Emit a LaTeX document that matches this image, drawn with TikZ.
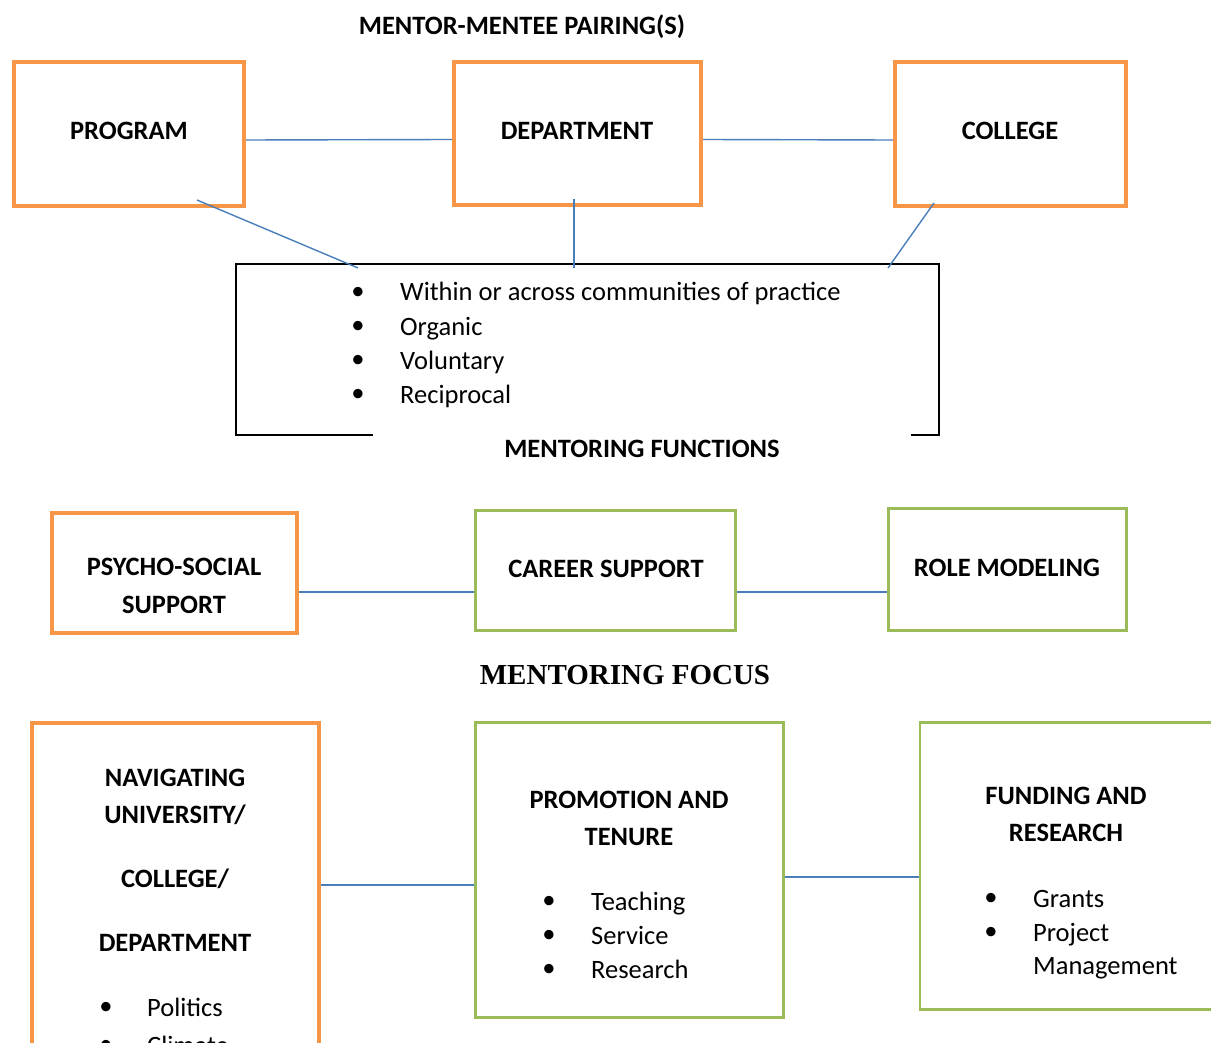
\documentclass[tikz,border=0pt]{standalone}
\usepackage{fontspec}
\setmainfont{Carlito}
\newfontfamily\focusfont{Liberation Serif}
\usetikzlibrary{positioning, calc}

\definecolor{boxorange}{HTML}{F79646}
\definecolor{boxgreen}{HTML}{9BBB59}
\definecolor{linkblue}{HTML}{4A7EBB}
\newcommand{\bodysize}{\fontsize{26.5pt}{34pt}\selectfont}

\tikzset{
  obox/.style={draw=boxorange, line width=4pt, inner sep=0pt},
  gbox/.style={draw=boxgreen, line width=2.4pt, inner sep=0pt},
  head/.style={font=\bodysize\bfseries, anchor=base, inner sep=0pt},
  item/.style={font=\bodysize, anchor=base west, inner sep=0pt},
  dot/.style={font=\bodysize, inner sep=0pt},
  link/.style={draw=linkblue, line width=1.4pt},
}

\begin{document}
\begin{tikzpicture}[x=1pt, y=-1pt]
\useasboundingbox (0,0) rectangle (1211,1043);
\clip (0,0) rectangle (1211,1043);

% Mentor-mentee pairings
\node[head] (pairtitle) at (522, 35) {MENTOR-MENTEE PAIRING(S)};
\node[obox, minimum width=230pt, minimum height=144pt] (program) at (129, 134) {};
\node[obox, minimum width=247pt, minimum height=143pt] (department) at (577.5, 133.5) {};
\node[obox, minimum width=231pt, minimum height=144pt] (college) at (1010.5, 134) {};
\node[head] (programT) at (129, 140) {PROGRAM};
\node[head] (departmentT) at (577, 140) {DEPARTMENT};
\node[head] (collegeT) at (1010, 140) {COLLEGE};

\draw[link] ([yshift=-6pt]program.east) -- ([yshift=-6pt]department.west);
\draw[link] ([yshift=-6pt]department.east) -- ([yshift=-6pt]college.west);

% Traits of the pairing
\node[draw, line width=1.5pt, minimum width=703pt, minimum height=171pt, inner sep=0pt] (traits) at (587.5, 349.5) {};
\foreach \t [count=\i from 0] in {Within or across communities of practice, Organic, Voluntary, Reciprocal} {
  \node[dot] (tdot\i) at (358, 293+34*\i) {\textbullet};
  \node[item] (titem\i) at (400, 301+34*\i) {\t};
}
\coordinate (progfoot) at (197, 200);
\coordinate (deptfoot) at (574, 199);
\coordinate (collfoot) at (934, 203);
\coordinate (traitsA) at (358, 268);
\coordinate (traitsB) at (574, 268);
\coordinate (traitsC) at (888, 268);
\draw[link] (progfoot) -- (traitsA);
\draw[link] (deptfoot) -- (traitsB);
\draw[link] (collfoot) -- (traitsC);

% Mentoring functions
\node[fill=white, minimum width=538pt, minimum height=34pt, inner sep=0pt] (funcband) at (642, 449) {};
\node[head] (functitle) at (642, 457) {MENTORING FUNCTIONS};
\node[obox, minimum width=245pt, minimum height=120pt] (psycho) at (174.5, 573) {};
\node[gbox, minimum width=260pt, minimum height=120pt] (career) at (605.5, 570.5) {};
\node[gbox, minimum width=238pt, minimum height=122pt] (role) at (1007.5, 569.5) {};
\node[head] (psychoT) at (174, 575) {PSYCHO-SOCIAL};
\node[head] (psychoT2) at (174, 613) {SUPPORT};
\node[head] (careerT) at (606, 577) {CAREER SUPPORT};
\node[head] (roleT) at (1007, 576) {ROLE MODELING};

\draw[link] ([yshift=-19pt]psycho.east) -- ([yshift=-21.5pt]career.west);
\draw[link] ([yshift=-21.5pt]career.east) -- ([yshift=-22.5pt]role.west);

% Mentoring focus
\node[font={\focusfont\fontsize{29pt}{34pt}\selectfont\bfseries}, anchor=base, inner sep=0pt] (focustitle) at (625, 684) {MENTORING FOCUS};
\node[obox, minimum width=287pt, minimum height=355pt] (navigating) at (175.5, 900) {};
\node[gbox, minimum width=308pt, minimum height=295pt] (promotion) at (629.5, 870) {};
\node[gbox, minimum width=340pt, minimum height=287pt] (funding) at (1090, 866) {};

\node[head] (navT1) at (175, 786) {NAVIGATING};
\node[head] (navT2) at (175, 823) {UNIVERSITY/};
\node[head] (navT3) at (175, 887) {COLLEGE/};
\node[head] (navT4) at (175, 951) {DEPARTMENT};
\foreach \t [count=\i from 0] in {Politics, Climate} {
  \node[dot] (ndot\i) at (106, 1008+38*\i) {\textbullet};
  \node[item] (nitem\i) at (147, 1016+38*\i) {\t};
}

\node[head] (promT1) at (629, 808) {PROMOTION AND};
\node[head] (promT2) at (629, 845) {TENURE};
\foreach \t [count=\i from 0] in {Teaching, Service, Research} {
  \node[dot] (pdot\i) at (549, 902+34*\i) {\textbullet};
  \node[item] (pitem\i) at (591, 910+34*\i) {\t};
}

\node[head] (fundT1) at (1066, 804) {FUNDING AND};
\node[head] (fundT2) at (1066, 841) {RESEARCH};
\foreach \t [count=\i from 0] in {Grants, Project} {
  \node[dot] (fdot\i) at (991, 899+34*\i) {\textbullet};
  \node[item] (fitem\i) at (1033, 907+34*\i) {\t};
}
\node[item] (fitem2) at (1033, 974) {Management};

\draw[link] ([yshift=15pt]navigating.east) -- ([yshift=-15pt]promotion.west);
\draw[link] ([yshift=-7pt]promotion.east) -- ([yshift=-11pt]funding.west);
\end{tikzpicture}
\end{document}
